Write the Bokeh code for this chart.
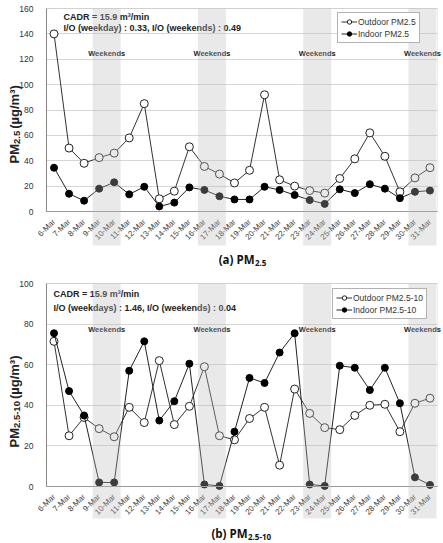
import math
from bokeh.plotting import figure
from bokeh.models import (Range1d, FixedTicker, BoxAnnotation, Label, Legend, LegendItem)
from bokeh.layouts import column
from bokeh.embed import file_html
from bokeh.resources import INLINE

# ---------------- data ----------------
dates = ["6-Mar", "7-Mar", "8-Mar", "9-Mar", "10-Mar", "11-Mar", "12-Mar", "13-Mar",
         "14-Mar", "15-Mar", "16-Mar", "17-Mar", "18-Mar", "19-Mar", "20-Mar", "21-Mar",
         "22-Mar", "23-Mar", "24-Mar", "25-Mar", "26-Mar", "27-Mar", "28-Mar", "29-Mar",
         "30-Mar", "31-Mar"]
weekend_days = [("9-Mar", "10-Mar"), ("16-Mar", "17-Mar"), ("23-Mar", "24-Mar"), ("30-Mar", "31-Mar")]

outdoor_pm25 = [140, 50, 38, 42.5, 46, 58, 85, 10, 16, 51, 35.5, 29.5, 22.5, 32.5, 92, 25,
                20, 16.5, 14.5, 26, 41.5, 62, 43.5, 15.5, 26.5, 34.5]
indoor_pm25 = [34.5, 14, 8.5, 18, 23, 13.5, 19.5, 4, 7, 19, 17, 12, 9.5, 9.5, 19.5, 17,
               13, 9, 6, 17.5, 14.5, 21.5, 18, 10.5, 15.5, 16.5]

outdoor_pm10 = [71.5, 25, 34, 28.5, 24.5, 39, 31.5, 62, 30.5, 39.5, 59, 25, 23, 33.5, 39, 10.5,
                48, 36, 29, 28, 35, 40, 40.5, 27, 41, 43.5]
indoor_pm10 = [75.5, 47, 35, 2, 2, 57, 71.5, 32.5, 42, 60.5, 1, 0.3, 27, 53.5, 51, 66,
               75.5, 1, 0.3, 59.5, 58.5, 47.5, 58.5, 41, 4.5, 0.8]

FONT = "Liberation Sans"
W = 443
FX0, FW = 46, 391
N = len(dates)


def px2x(px):
    return -0.5 + (px - FX0) / FW * N


def make_panel(height, ymax, outdoor, indoor, out_label, in_label,
               info1, info2, info_px, info_py1, info_py2, fig_top_abs, frame_top_abs, frame_h,
               weekend_y_px, band_bottom_px, legend_box,
               sub_text, cap_letter, cap_px, cap_py,
               ytitle_py_junction, sub_width_px):
    frame_bottom_abs = frame_top_abs + frame_h

    def py2y(py):
        return (frame_bottom_abs - py) / frame_h * ymax

    p = figure(width=W, height=height, output_backend="svg", toolbar_location=None,
               min_border_left=0, min_border_right=0, min_border_top=0, min_border_bottom=0,
               x_range=Range1d(px2x(0), px2x(W)),
               y_range=Range1d(py2y(fig_top_abs + height), py2y(fig_top_abs)),
               background_fill_color="white", border_fill_color="white")
    p.outline_line_color = None
    p.xgrid.grid_line_color = None
    p.ygrid.grid_line_color = "#d6d6d6"
    p.ygrid.ticker = FixedTicker(ticks=list(range(20, ymax + 1, 20)))
    p.ygrid.bounds = (0, ymax)
    p.ygrid.cross_bounds = (-0.5, N - 0.5)

    # plot-area border (light grey)
    p.add_layout(BoxAnnotation(left=-0.5, right=N - 0.5, bottom=0, top=ymax,
                               fill_alpha=0, line_color="#c8c8c8", line_width=1,
                               level="underlay"))

    xs = list(range(N))
    p.xaxis.fixed_location = 0
    p.xaxis.bounds = (-0.5, N - 0.5)
    p.xaxis.ticker = FixedTicker(ticks=xs)
    p.xaxis.major_label_overrides = {i: d for i, d in enumerate(dates)}
    p.xaxis.major_label_orientation = math.pi / 4
    p.xaxis.major_label_text_font = FONT
    p.xaxis.major_label_text_font_size = "8px"
    p.xaxis.major_label_text_color = "#444"
    p.xaxis.major_tick_line_color = None
    p.xaxis.minor_tick_line_color = None
    p.xaxis.axis_line_color = "#999"
    p.xaxis.major_label_standoff = 3

    p.yaxis.fixed_location = -0.5
    p.yaxis.bounds = (0, ymax)
    p.yaxis.ticker = FixedTicker(ticks=list(range(0, ymax + 1, 20)))
    p.yaxis.major_label_text_font = FONT
    p.yaxis.major_label_text_font_size = "8.5px"
    p.yaxis.major_label_text_color = "#333"
    p.yaxis.major_tick_line_color = None
    p.yaxis.minor_tick_line_color = None
    p.yaxis.axis_line_color = "#888"
    p.yaxis.major_label_standoff = 7

    lo = p.line(xs, outdoor, line_color="#333", line_width=1)
    so = p.scatter(xs, outdoor, size=8, marker="circle", fill_color="white",
                   line_color="#222", line_width=1)
    li = p.line(xs, indoor, line_color="#222", line_width=1)
    si = p.scatter(xs, indoor, size=7, marker="circle", fill_color="black",
                   line_color="black", line_width=1)

    # weekend bands (semi-transparent overlay, extending under the date labels)
    for a, b in weekend_days:
        ia, ib = dates.index(a), dates.index(b)
        p.add_layout(BoxAnnotation(left=ia - 0.43, right=min(ib + 0.43, N - 0.5),
                                   bottom=py2y(band_bottom_px), top=ymax,
                                   fill_color="#bcbcbc", fill_alpha=0.32,
                                   line_color=None, level="overlay"))
        p.add_layout(Label(x=(ia + ib) / 2, y=py2y(weekend_y_px), text="Weekends",
                           text_font=FONT, text_font_size="7.5px", text_font_style="bold",
                           text_align="center", text_baseline="middle", text_color="#222"))

    # info text
    for txt, py in ((info1, info_py1), (info2, info_py2)):
        p.add_layout(Label(x=px2x(info_px), y=py2y(py), text=txt, text_font=FONT,
                           text_font_size="9px", text_font_style="bold",
                           text_align="left", text_baseline="middle", text_color="#222"))

    # legend (location = bottom-left corner, px from frame bottom-left)
    lx, lbottom = legend_box
    legend = Legend(items=[LegendItem(label=out_label, renderers=[lo, so]),
                           LegendItem(label=in_label, renderers=[li, si])],
                    location=(lx, fig_top_abs + height - lbottom), orientation="vertical",
                    padding=3, spacing=1, margin=0, glyph_width=16, glyph_height=11,
                    label_height=11, label_standoff=1,
                    label_text_font=FONT, label_text_font_size="8.5px",
                    label_text_color="#333",
                    border_line_color="#666", border_line_width=1,
                    background_fill_color="white", background_fill_alpha=1)
    p.add_layout(legend)

    # y axis title: PM + subscript + (µg/m³), rotated
    p.add_layout(Label(x=px2x(13.5), y=py2y(ytitle_py_junction),
                       text="PM", angle=math.pi / 2, text_font=FONT,
                       text_font_size="13px", text_font_style="bold",
                       text_align="right", text_baseline="middle", text_color="#222"))
    p.add_layout(Label(x=px2x(16.5), y=py2y(ytitle_py_junction),
                       text=sub_text, angle=math.pi / 2, text_font=FONT,
                       text_font_size="9.5px", text_font_style="bold",
                       text_align="left", text_baseline="middle", text_color="#222"))
    p.add_layout(Label(x=px2x(13.5), y=py2y(ytitle_py_junction - sub_width_px - 2),
                       text="(\u00b5g/m\u00b3)", angle=math.pi / 2, text_font=FONT,
                       text_font_size="13px", text_font_style="bold",
                       text_align="left", text_baseline="middle", text_color="#222"))

    # caption
    p.add_layout(Label(x=px2x(cap_px), y=py2y(cap_py),
                       text=f"({cap_letter}) PM",
                       text_font="Open Sans", text_font_size="11.5px", text_font_style="bold",
                       text_align="right", text_baseline="middle", text_color="#111"))
    p.add_layout(Label(x=px2x(cap_px + 0.5), y=py2y(cap_py + 3.5),
                       text=sub_text,
                       text_font="Open Sans", text_font_size="8px", text_font_style="bold",
                       text_align="left", text_baseline="middle", text_color="#111"))
    return p


p1 = make_panel(271, 160, outdoor_pm25, indoor_pm25,
                "Outdoor PM2.5", "Indoor PM2.5",
                "CADR = 15.9 m\u00b3/min", "I/O (weekday) : 0.33, I/O (weekends) : 0.49",
                63, 16, 27.5, 0, 8, 203,
                53, 245, (337, 43),
                "2.5", "a", 254, 259,
                143.5, 13.2)

p2 = make_panel(272, 100, outdoor_pm10, indoor_pm10,
                "Outdoor PM2.5-10", "Indoor PM2.5-10",
                "CADR = 15.9 m\u00b3/min", "I/O (weekdays) : 1.46, I/O (weekends) : 0.04",
                53, 293, 307, 271, 283, 203,
                329, 518, (332, 319),
                "2.5-10", "b", 247, 533,
                427.5, 26.9)

layout = column(p1, p2, spacing=0)
open("out.html", "w").write(file_html(layout, INLINE))
